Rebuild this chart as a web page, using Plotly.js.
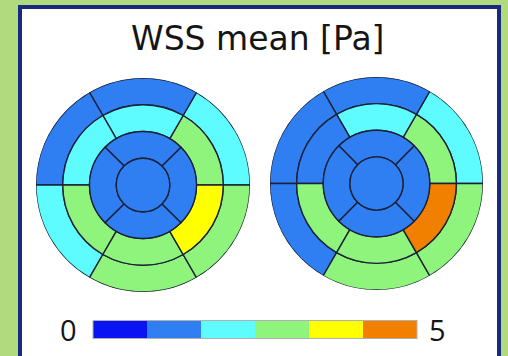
<!DOCTYPE html>
<html><head><meta charset="utf-8">
<script src="https://cdn.plot.ly/plotly-3.0.1.min.js"></script>
<style>html,body{margin:0;padding:0;background:#b1d97e;}#chart{width:508px;height:356px;}</style>
</head><body><div id="chart"></div>
<script>
// Segment centre angles (degrees, counter-clockwise from 3 o'clock)
const ringAngles6 = [30, 90, 150, 210, 270, 330];
const ringAngles4 = [0, 90, 180, 270];
// WSS mean values [Pa]
const leftBasal  = [2.1, 1.25, 1.25, 2.1, 2.9, 2.9];
const leftMid    = [2.9, 2.1, 2.1, 2.9, 2.9, 3.75];
const leftApical = [1.25, 1.25, 1.25, 1.25];
const leftApex   = [1.25];
const rightBasal  = [2.1, 1.25, 1.25, 1.25, 2.9, 2.9];
const rightMid    = [2.9, 2.1, 1.25, 2.9, 2.9, 4.6];
const rightApical = [1.25, 1.25, 1.25, 1.25];
const rightApex   = [1.25];
const cbTickLabels = ['0', '5'];
const binColors = ['#0a14f2', '#2f7ff2', '#5ffcff', '#8ff47c', '#ffff00', '#f28000'];

const cscale = [];
binColors.forEach((c, i) => { cscale.push([i / 6, c]); cscale.push([(i + 1) / 6, c]); });

const lineStyle = {color: '#1b2038', width: 1.4};
function ring(vals, angles, width, base, subplot, showbar) {
  const m = {color: vals, colorscale: cscale, cmin: 0, cmax: 5, line: lineStyle, showscale: !!showbar};
  if (showbar) {
    m.colorbar = {orientation: 'h', x: 0.502, xanchor: 'center', y: 0.073, yanchor: 'middle',
      len: 324, lenmode: 'pixels', thickness: 18, thicknessmode: 'pixels',
      outlinewidth: 1, outlinecolor: '#b0b0b0', showticklabels: false, ticks: '', xpad: 0, ypad: 0};
  }
  return {type: 'barpolar', subplot: subplot, theta: angles, r: angles.map(() => 1),
    base: angles.map(() => base), width: angles.map(() => width), marker: m,
    hoverinfo: 'skip'};
}
const traces = [
  ring(leftBasal, ringAngles6, 60, 3, 'polar', true),
  ring(leftMid, ringAngles6, 60, 2, 'polar'),
  ring(leftApical, ringAngles4, 90, 1, 'polar'),
  ring(leftApex, [0], 360, 0, 'polar'),
  ring(rightBasal, ringAngles6, 60, 3, 'polar2'),
  ring(rightMid, ringAngles6, 60, 2, 'polar2'),
  ring(rightApical, ringAngles4, 90, 1, 'polar2'),
  ring(rightApex, [0], 360, 0, 'polar2')
];
function polarAx(dx, dy) {
  return {domain: {x: dx, y: dy}, bgcolor: 'rgba(0,0,0,0)', bargap: 0,
    radialaxis: {range: [0, 4], visible: false, showgrid: false},
    angularaxis: {visible: false, showgrid: false, showline: false, rotation: 0, direction: 'counterclockwise'}};
}
const layout = {
  width: 508, height: 356, margin: {l: 0, r: 0, t: 0, b: 0},
  paper_bgcolor: '#b1d97e', plot_bgcolor: 'rgba(0,0,0,0)', showlegend: false,
  font: {family: '"Open Sans", sans-serif', color: '#151515'},
  polar: polarAx([36 / 508, 250 / 508], [64 / 356, 278 / 356]),
  polar2: polarAx([270 / 508, 483 / 508], [66 / 356, 279 / 356]),
  shapes: [{type: 'rect', xref: 'paper', yref: 'paper', x0: 20 / 508, x1: 499 / 508, y0: -0.05, y1: 1 - 7 / 356,
    fillcolor: '#ffffff', line: {color: '#172a7e', width: 4}, layer: 'below'}],
  annotations: [
    {text: 'WSS mean [Pa]', xref: 'paper', yref: 'paper', x: 257 / 508, y: 1 - 38 / 356, xanchor: 'center', yanchor: 'middle', showarrow: false, font: {size: 33, family: '"DejaVu Sans", sans-serif', color: '#151515'}},
    {text: cbTickLabels[0], xref: 'paper', yref: 'paper', x: 68 / 508, y: 27 / 356, xanchor: 'center', yanchor: 'middle', showarrow: false, font: {size: 29}},
    {text: cbTickLabels[1], xref: 'paper', yref: 'paper', x: 437 / 508, y: 27 / 356, xanchor: 'center', yanchor: 'middle', showarrow: false, font: {size: 29}}
  ]
};
Plotly.newPlot('chart', traces, layout, {staticPlot: true, displayModeBar: false});
</script></body></html>
